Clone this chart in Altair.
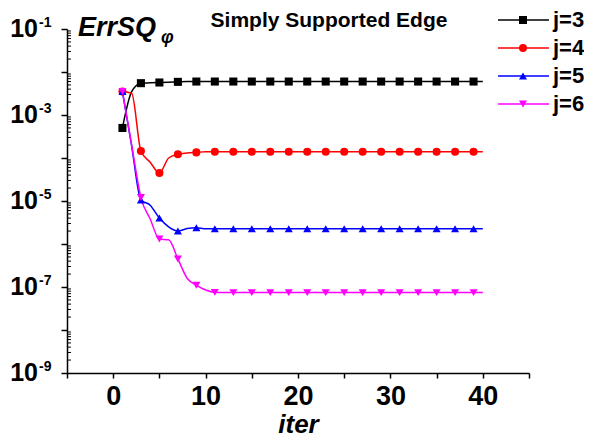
import altair as alt
import pandas as pd

# ---------------- data ----------------
iters = list(range(1, 41))
series_names = ["j=3", "j=4", "j=5", "j=6"]
colors = ["#000000", "#FF0000", "#0000FF", "#FF00FF"]
shapes = ["square", "circle", "triangle-up", "triangle-down"]

j3 = [5.0e-4, 3.5e-3, 5.5e-3, 5.6e-3, 5.7e-3, 5.8e-3, 5.9e-3] + [6.0e-3] * 33
j4 = [3.5e-3, 3.2e-3, 1.45e-4, 8.0e-5, 4.5e-5, 1.0e-4, 1.22e-4, 1.3e-4, 1.35e-4] + [1.4e-4] * 31
j5 = [3.5e-3, 1.9e-4, 1.05e-5, 8.0e-6, 4.0e-6, 2.5e-6, 2.0e-6, 2.3e-6, 2.4e-6] + [2.25e-6] * 31
j6 = [3.5e-3, 2.0e-4, 1.2e-5, 3.8e-6, 1.3e-6, 1.25e-6, 4.5e-7, 1.6e-7, 1.1e-7, 8.5e-8, 7.5e-8] + [7.4e-8] * 29

x_ticks = [-5, 0, 5, 10, 15, 20, 25, 30, 35, 40, 45]
y_major = [1e-9, 1e-8, 1e-7, 1e-6, 1e-5, 1e-4, 1e-3, 1e-2, 1e-1]
y_label_vals = [1e-1, 1e-3, 1e-5, 1e-7, 1e-9]
y_label_exps = ["-1", "-3", "-5", "-7", "-9"]
y_minor = [k * 10.0 ** n for n in range(-9, -1) for k in range(2, 10)]

title_text = "Simply Supported Edge"
ylab_main = "ErrSQ"
ylab_sub = "φ"
xlab = "iter"

# ---------------- tables ----------------
rows = []
for name, vals in zip(series_names, [j3, j4, j5, j6]):
    for it, v in zip(iters, vals):
        rows.append({"iter": it, "value": v, "series": name})
df = pd.DataFrame(rows)
df_marks = df[df["iter"] % 2 == 1]

FONT = "Liberation Sans"
W, H = 462, 344

xscale = alt.Scale(domain=[-5, 45], nice=False, zero=False)
yscale = alt.Scale(type="log", domain=[1e-9, 1e-1], nice=False)
cscale = alt.Scale(domain=series_names, range=colors)
sscale = alt.Scale(domain=series_names, range=shapes)

xaxis = alt.Axis(values=x_ticks, labelExpr="datum.value % 10 == 0 ? datum.label : ''",
                 tickSize=5, tickWidth=1.5, domainWidth=1.5, domainColor="black", tickColor="black",
                 labelFont=FONT, labelFontSize=27, labelFontWeight="bold", labelColor="black",
                 labelPadding=5, grid=False,
                 title=xlab, titleFont=FONT, titleFontSize=26, titleFontWeight="bold",
                 titleFontStyle="italic", titleColor="black", titlePadding=2)
yaxis = alt.Axis(values=y_major, labels=False, tickSize=6, tickWidth=1.5, domainWidth=1.5,
                 domainColor="black", tickColor="black", grid=False, title=None)

base = alt.Chart(df)

lines = base.mark_line(interpolate="monotone", strokeWidth=1.5).encode(
    x=alt.X("iter:Q", scale=xscale, axis=xaxis),
    y=alt.Y("value:Q", scale=yscale, axis=yaxis),
    color=alt.Color("series:N", scale=cscale, legend=None),
    detail="series:N",
)

points = alt.Chart(df_marks).mark_point(filled=True, size=65, opacity=1).encode(
    x=alt.X("iter:Q", scale=xscale),
    y=alt.Y("value:Q", scale=yscale, axis=None),
    color=alt.Color("series:N", scale=cscale, legend=None),
    shape=alt.Shape("series:N", scale=sscale, legend=None),
)

minor = alt.Chart(pd.DataFrame({"v": y_minor})).mark_rule(color="black", strokeWidth=1).encode(
    y=alt.Y("v:Q", scale=yscale, axis=None),
    x=alt.value(0), x2=alt.value(4),
)

ylab_df = pd.DataFrame({"v": y_label_vals, "exp": y_label_exps, "base": ["10"] * 5})
ylab10 = alt.Chart(ylab_df).mark_text(font=FONT, fontSize=25, fontWeight="bold", align="right",
                                      baseline="middle", color="black").encode(
    y=alt.Y("v:Q", scale=yscale, axis=None), x=alt.value(-29), text="base:N")
ylabexp = alt.Chart(ylab_df).mark_text(font=FONT, fontSize=14, fontWeight="bold", align="left",
                                       baseline="middle", color="black", dy=-6).encode(
    y=alt.Y("v:Q", scale=yscale, axis=None), x=alt.value(-28), text="exp:N")

ttl = alt.Chart(pd.DataFrame({"t": [title_text]})).mark_text(
    font=FONT, fontSize=21, fontWeight="bold", align="center", baseline="alphabetic", color="black"
).encode(x=alt.value(262), y=alt.value(-2), text="t:N")

errsq = alt.Chart(pd.DataFrame({"t": [ylab_main]})).mark_text(
    font=FONT, fontSize=27, fontWeight="bold", fontStyle="italic", align="left",
    baseline="alphabetic", color="black"
).encode(x=alt.value(11), y=alt.value(7), text="t:N")
phi = alt.Chart(pd.DataFrame({"t": [ylab_sub]})).mark_text(
    font=FONT, fontSize=18, fontWeight="bold", fontStyle="italic", align="left",
    baseline="alphabetic", color="black"
).encode(x=alt.value(94), y=alt.value(14), text="t:N")

leg_df = pd.DataFrame({"series": series_names})
leg_scale = alt.Scale(type="point", domain=series_names, range=[-9, 75], padding=0)
leg_rule = alt.Chart(leg_df).mark_rule(strokeWidth=1.5).encode(
    y=alt.Y("series:N", scale=leg_scale, axis=None), x=alt.value(431), x2=alt.value(482),
    color=alt.Color("series:N", scale=cscale, legend=None))
leg_pt = alt.Chart(leg_df).mark_point(filled=True, size=65, opacity=1).encode(
    y=alt.Y("series:N", scale=leg_scale, axis=None), x=alt.value(456),
    color=alt.Color("series:N", scale=cscale, legend=None),
    shape=alt.Shape("series:N", scale=sscale, legend=None))
leg_txt = alt.Chart(leg_df).mark_text(font=FONT, fontSize=22, fontWeight="bold", align="left",
                                      baseline="middle", color="black").encode(
    y=alt.Y("series:N", scale=leg_scale, axis=None), x=alt.value(486), text="series:N")

chart = alt.layer(
    lines, points, minor, ylab10, ylabexp, ttl, errsq, phi, leg_rule, leg_pt, leg_txt
).resolve_scale(y="independent").properties(
    width=W, height=H,
    padding={"left": 59, "top": 21, "right": 55, "bottom": 63},
    autosize=alt.AutoSizeParams(type="none"),
).configure_view(stroke=None)

chart.save("out.html", embed_options={"renderer": "svg", "actions": False})
